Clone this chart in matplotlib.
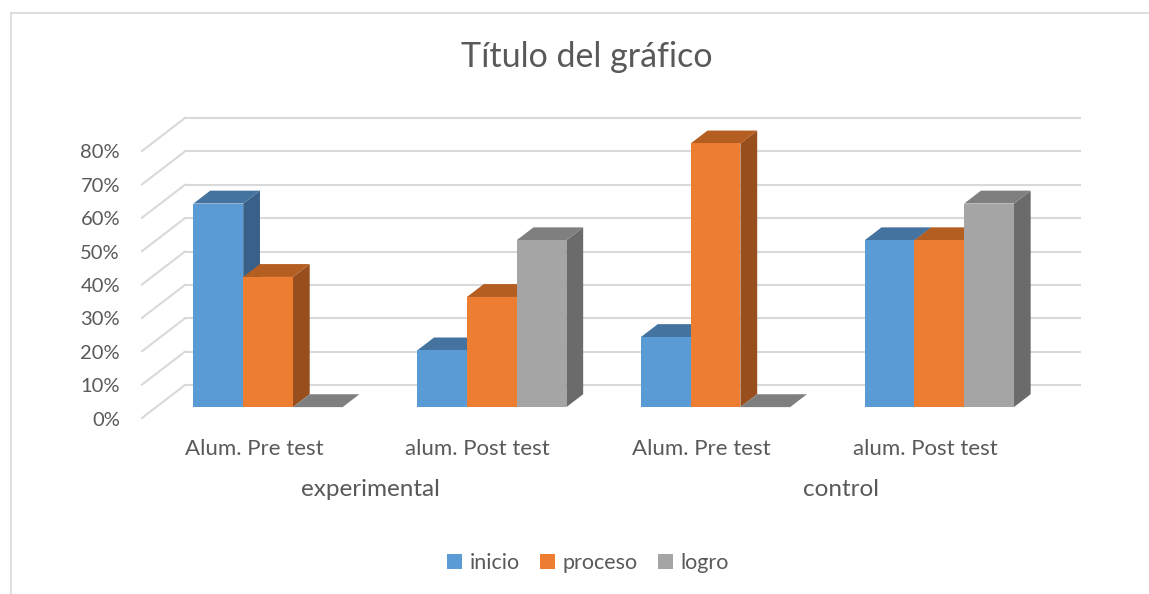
import matplotlib.pyplot as plt
import matplotlib.lines as mlines
from matplotlib.patches import Polygon, Patch

# data
categories = ['Alum. Pre test', 'alum. Post test', 'Alum. Pre test', 'alum. Post test']
groups = ['experimental', 'control']
series = ['inicio', 'proceso', 'logro']
inicio = [61, 17, 21, 50]
proceso = [39, 33, 79, 50]
logro = [0, 50, 0, 61]
yticks = [0, 10, 20, 30, 40, 50, 60, 70, 80]

# colours (front, top, side)
colors = {
    'inicio': ('#5B9BD5', '#44739F', '#386089'),
    'proceso': ('#ED7D31', '#B55E22', '#994E1D'),
    'logro': ('#A5A5A5', '#7F7F7F', '#6B6B6B'),
}
text_col = '#595959'
grid_col = '#D9D9D9'
font = 'Lato'

W, H = 1149, 594
fig = plt.figure(figsize=(W / 100, H / 100), dpi=100)
ax = fig.add_axes([0, 0, 1, 1])
ax.set_axis_off()

# pseudo 3d projection: x in category units, y in percent on the back wall
px_x = 223.75   # pixels per category
px_y = 3.3375   # pixels per percent
x0_px, y0_px = 185, 385
ax.set_xlim(-x0_px / px_x, (W - x0_px) / px_x)
ax.set_ylim(-(H - y0_px) / px_y, y0_px / px_y)

dep_x = -43 / px_x     # offset of the front plane
dep_y = -33 / px_y
d_front, d_back = 0.67, 0.28  # depth of bar faces

# back wall + side wall grid
for v in yticks:
    ax.plot([0, len(categories)], [v, v], color=grid_col, lw=1.5, zorder=1)
    ax.plot([0, dep_x], [v, v + dep_y], color=grid_col, lw=1.5, zorder=1)
    ax.text(dep_x - 22 / px_x, v + dep_y - 2 / px_y, f'{v}%', ha='right', va='center',
            fontsize=14.5, color=text_col, family=font)

bw = 1 / 4.5
gap = 1.5 * bw / 2
values = {'inicio': inicio, 'proceso': proceso, 'logro': logro}

z = 2
for i in range(len(categories)):
    for j, s in enumerate(series):
        v = values[s][i]
        fc, tc, sc = colors[s]
        xl = i + gap + j * bw
        xr = xl + bw
        fx, fy = d_front * dep_x, d_front * dep_y
        bx, by = d_back * dep_x, d_back * dep_y
        side = [(xr + fx, fy), (xr + bx, by), (xr + bx, v + by), (xr + fx, v + fy)]
        top = [(xl + fx, v + fy), (xr + fx, v + fy), (xr + bx, v + by), (xl + bx, v + by)]
        front = [(xl + fx, fy), (xr + fx, fy), (xr + fx, v + fy), (xl + fx, v + fy)]
        ax.add_patch(Polygon(side, closed=True, fc=sc, ec='none', zorder=z))
        ax.add_patch(Polygon(top, closed=True, fc=tc, ec='none', zorder=z + 0.1))
        ax.add_patch(Polygon(front, closed=True, fc=fc, ec='none', zorder=z + 0.2))
        z += 1

# category labels on the front plane
for i, c in enumerate(categories):
    ax.text(i + 0.5 + dep_x, (y0_px - 449) / px_y, c, ha='center', va='center',
            fontsize=16, color=text_col, family=font)

group_x = [370, 841]
for g, gx in zip(groups, group_x):
    ax.text((gx - x0_px) / px_x, (y0_px - 490) / px_y, g, ha='center', va='center',
            fontsize=17.5, color=text_col, family=font)

fig.text(587 / W, 1 - 57 / H, 'Título del gráfico', ha='center', va='center',
         fontsize=24.5, color=text_col, family=font)

handles = [Patch(fc=colors[s][0], ec='none', label=s) for s in series]
leg = fig.legend(handles=handles, loc='center', bbox_to_anchor=(588 / W, 1 - 563 / H),
                 ncol=3, frameon=False, handlelength=0.7, handleheight=0.7,
                 handletextpad=0.35, columnspacing=0.95,
                 prop={'family': font, 'size': 15.5})
for t in leg.get_texts():
    t.set_color(text_col)

# chart border (only top and left are inside the picture)
fig.add_artist(mlines.Line2D([10.5 / W, 1], [1 - 12.5 / H, 1 - 12.5 / H], color=grid_col, lw=1.2))
fig.add_artist(mlines.Line2D([10.5 / W, 10.5 / W], [0, 1 - 12.5 / H], color=grid_col, lw=1.2))

fig.savefig('out.png', dpi=100, facecolor='white')
